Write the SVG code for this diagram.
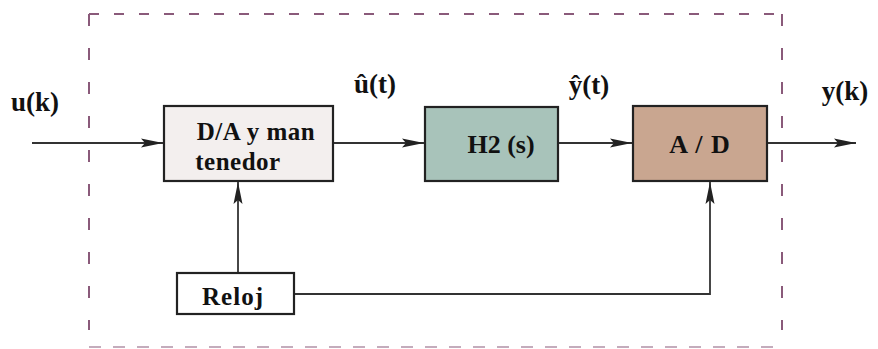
<svg xmlns="http://www.w3.org/2000/svg" width="878" height="349" viewBox="0 0 878 349">
<style>
.box{stroke:#222;stroke-width:2.2}
.ln{stroke:#333;stroke-width:1.8;fill:none}
.dash{stroke:#8a5a7a;stroke-width:2;fill:none}
.t{font-family:"Liberation Serif",serif;font-weight:bold;fill:#111;text-anchor:middle}
</style>
<defs>
<marker id="ah" viewBox="0 0 22 10" refX="22" refY="5" markerWidth="22" markerHeight="10" markerUnits="userSpaceOnUse" orient="auto">
<path d="M0,0.5 L22,5 L0,9.5 L4,5 Z" fill="#222"/>
</marker>
</defs>
<rect width="878" height="349" fill="#fff"/>
<g id="frame">
<path class="dash" d="M89,14 H782" stroke-dasharray="10 15"/>
<path class="dash" d="M89,14 V330" stroke-dasharray="12 22"/>
<path class="dash" d="M782,14 V330" stroke-dasharray="12 22"/>
<path class="dash" d="M89,347 H782" stroke-dasharray="12 12" stroke-opacity="0.5"/>
</g>
<g id="connectors">
<path class="ln" d="M32,143 H163" marker-end="url(#ah)"/>
<path class="ln" d="M334,143 H424" marker-end="url(#ah)"/>
<path class="ln" d="M558,143 H632" marker-end="url(#ah)"/>
<path class="ln" d="M767,143 H856" marker-end="url(#ah)"/>
<path class="ln" d="M238,273 V182" marker-end="url(#ah)"/>
<path class="ln" d="M294,294 H710 V182" marker-end="url(#ah)"/>
</g>
<g id="da">
<rect class="box" x="164" y="106" width="169" height="75" fill="#f3efee"/>
<text class="t" x="256" y="140" font-size="25" letter-spacing="0.5">D/A y man</text>
<text class="t" x="238" y="170" font-size="25" letter-spacing="0.5">tenedor</text>
</g>
<g id="h2">
<rect class="box" x="425" y="107" width="133" height="74" fill="#a8c3ba"/>
<text class="t" x="501" y="153" font-size="26">H2 (s)</text>
</g>
<g id="ad">
<rect class="box" x="633" y="106" width="134" height="75" fill="#c9a690"/>
<text class="t" x="700" y="153" font-size="26" letter-spacing="1">A / D</text>
</g>
<g id="reloj">
<rect class="box" x="177" y="273" width="117" height="41" fill="#fff"/>
<text class="t" x="233" y="305" font-size="25" letter-spacing="1">Reloj</text>
</g>
<g id="labels">
<text class="t" x="35" y="111" font-size="27">u(k)</text>
<text class="t" x="375" y="93" font-size="27">û(t)</text>
<text class="t" x="589" y="94" font-size="27">ŷ(t)</text>
<text class="t" x="845" y="100" font-size="27">y(k)</text>
</g>
</svg>
